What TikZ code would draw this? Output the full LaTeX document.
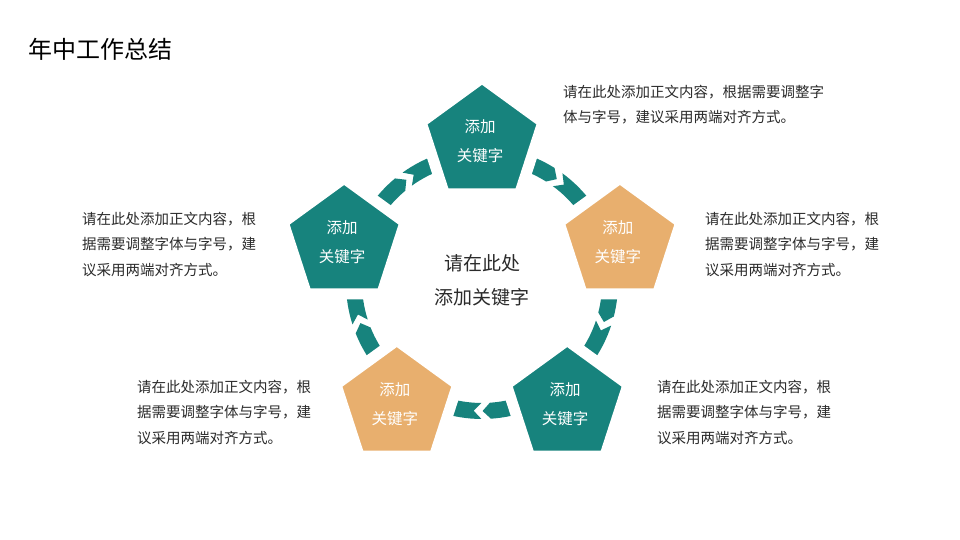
\documentclass[tikz,border=0pt]{standalone}
\usepackage{fontspec}
\setmainfont{Noto Sans CJK SC}
\newfontfamily\cjk{Noto Sans CJK SC}
\usetikzlibrary{shapes.geometric,calc}
\definecolor{tealc}{HTML}{17837D}
\definecolor{orangec}{HTML}{E8AF6E}
\definecolor{txt}{HTML}{2B2B2B}
\newcommand\tipseg[2]{% from angle #1 down to base angle #2, tip beyond
  \fill[tealc] (#1:136) arc[start angle=#1, end angle=#2, radius=136]
    -- ({#2-3.5}:128) -- (#2:120)
    arc[start angle=#2, end angle=#1, radius=120] -- cycle;}
\newcommand\notchseg[2]{% notch corners at angle #1, down to angle #2
  \fill[tealc] (#1:136) -- ({#1-3.5}:128) -- (#1:120)
    arc[start angle=#1, end angle=#2, radius=120]
    -- (#2:136) arc[start angle=#2, end angle=#1, radius=136] -- cycle;}
\begin{document}
\begin{tikzpicture}[x=1pt,y=1pt,
  pent/.style={regular polygon, regular polygon sides=5, inner sep=0pt,
    minimum size=128pt, draw=white, line width=11pt},
  ptext/.style={text=white, align=center, inner sep=0pt,
    font=\cjk\fontsize{15.5}{29}\selectfont},
  body/.style={text=txt, align=left, anchor=west, inner sep=0pt,
    font=\cjk\fontsize{14.5}{25.5}\selectfont}]
\useasboundingbox (0,0) rectangle (960,540);
\fill[white] (0,0) rectangle (960,540);

% title
\node[anchor=west, inner sep=0pt, text=black, font=\cjk\fontsize{24}{28}\selectfont] (title) at (28,491) {年中工作总结};

% ring segments
\begin{scope}[shift={(482,257)}]
  \foreach \g in {54,-18,-90,-162,126} {
    \tipseg{\g+36}{\g+3.75}
    \notchseg{\g-0.25}{\g-36}
  }
\end{scope}

% pentagons
\node[pent, fill=tealc]   (p1) at (482,398) {};
\node[pent, fill=orangec] (p2) at (619.9,297.8) {};
\node[pent, fill=tealc]   (p3) at (567.2,135.7) {};
\node[pent, fill=orangec] (p4) at (396.8,135.7) {};
\node[pent, fill=tealc]   (p5) at (344.1,297.8) {};

\node[ptext] (t1) at ($(p1)+(-2,1)$) {添加\\关键字};
\node[ptext] (t2) at ($(p2)+(-2,0)$) {添加\\关键字};
\node[ptext] (t3) at ($(p3)+(-2,0)$) {添加\\关键字};
\node[ptext] (t4) at ($(p4)+(-2,0)$) {添加\\关键字};
\node[ptext] (t5) at ($(p5)+(-2,0)$) {添加\\关键字};

% center text
\node[text=txt, align=center, inner sep=0pt, font=\cjk\fontsize{19}{34}\selectfont] (ctr) at (482,260) {请在此处\\添加关键字};

% body texts
\node[body] (b1) at (563,435.5) {请在此处添加正文内容，根据需要调整字\\体与字号，建议采用两端对齐方式。};
\node[body] (b2) at (705,296) {请在此处添加正文内容，根\\据需要调整字体与字号，建\\议采用两端对齐方式。};
\node[body] (b3) at (82,296) {请在此处添加正文内容，根\\据需要调整字体与字号，建\\议采用两端对齐方式。};
\node[body] (b4) at (137,128) {请在此处添加正文内容，根\\据需要调整字体与字号，建\\议采用两端对齐方式。};
\node[body] (b5) at (657,128) {请在此处添加正文内容，根\\据需要调整字体与字号，建\\议采用两端对齐方式。};
\end{tikzpicture}
\end{document}
